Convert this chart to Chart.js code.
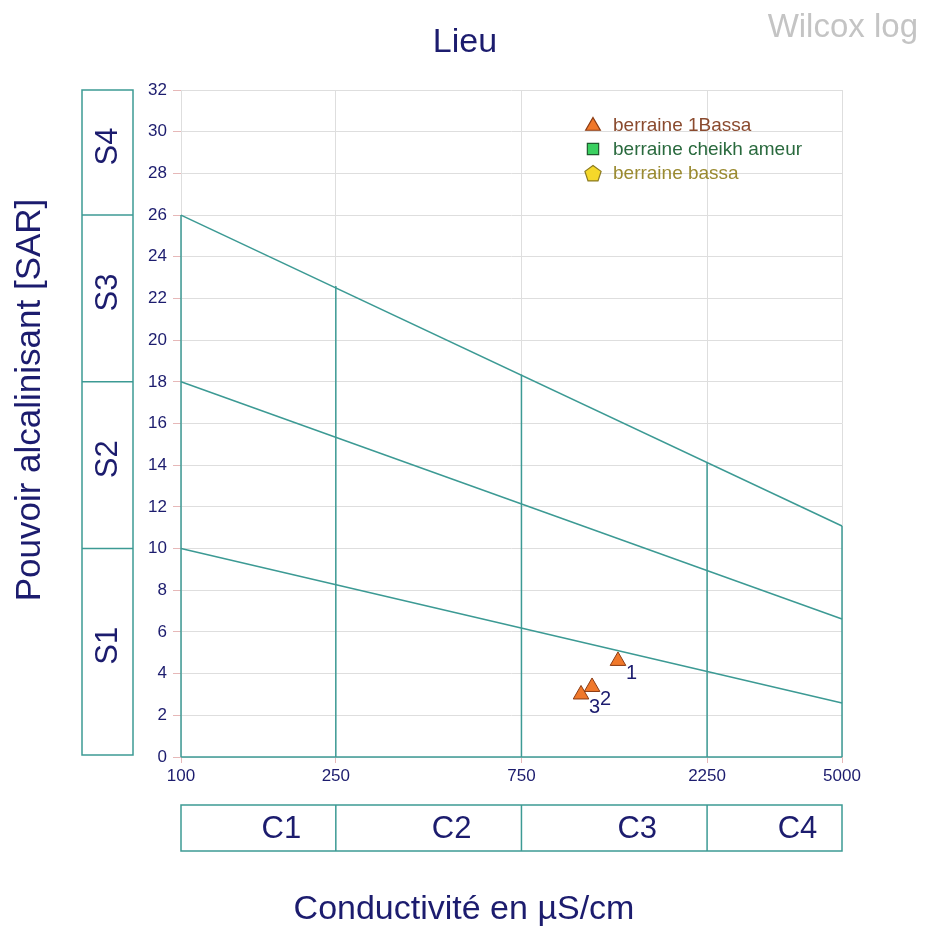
<!DOCTYPE html>
<html>
<head>
<meta charset="utf-8">
<script src="https://cdn.jsdelivr.net/npm/chart.js@4.4.1/dist/chart.umd.min.js"></script>
<style>
  body { margin: 0; background: #fff; }
  #wilcox { display: block; }
</style>
</head>
<body>
<canvas id="wilcox" width="927" height="930"></canvas>
<script>
// conductivity ticks (log axis) and SAR range
const xTicks = [100, 250, 750, 2250, 5000]
const yMin = 0, yMax = 32, yStep = 2

// boundary lines S1/S2, S2/S3, S3/S4 (SAR at 100 and 5000 µS/cm)
const lineX = [100, 5000]
const lineS1 = [10, 2.59]
const lineS2 = [18, 6.62]
const lineS3 = [26, 11.08]

// vertical class limits and the SAR where they meet the top line
const vertX = [250, 750, 2250, 5000]
const vertTop = [22.6, 18.35, 14.1, 11.08]

// class boxes
const sClasses = ['S1', 'S2', 'S3', 'S4']
const sLimits = [0, 10, 18, 26, 32]
const cClasses = ['C1', 'C2', 'C3', 'C4']
const cLimits = [100, 250, 750, 2250, 5000]

// samples
const seriesNames = ['berraine 1Bassa', 'berraine cheikh ameur', 'berraine bassa']
const bassa1Cond = [1328, 1139, 1067]
const bassa1Sar = [4.61, 3.36, 3.0]
const bassa1Ids = ['1', '2', '3']
const cheikhCond = []
const cheikhSar = []
const bassaCond = []
const bassaSar = []

const teal = '#3c9a94'
const navy = '#1c1c6e'
const font = '"Liberation Sans", Arial, sans-serif'

const toPts = (xs, ys) => xs.map((x, i) => ({ x: x, y: ys[i] }))

const lineDs = (data) => ({
    type: 'line',
    data: data,
    borderColor: teal,
    borderWidth: 1.5,
    pointRadius: 0,
    fill: false,
    clip: 4
})

const frameSets = [
    lineDs(toPts(lineX, lineS1)),
    lineDs(toPts(lineX, lineS2)),
    lineDs(toPts(lineX, lineS3)),
    lineDs([{ x: 100, y: 0 }, { x: 100, y: 26 }]),
    lineDs([{ x: 100, y: 0 }, { x: 5000, y: 0 }])
]
vertX.forEach((x, i) => {
    frameSets.push(lineDs([{ x: x, y: 0 }, { x: x, y: vertTop[i] }]))
})

const sampleSets = [
    {
        label: seriesNames[0],
        data: toPts(bassa1Cond, bassa1Sar),
        pointStyle: 'triangle',
        pointRadius: 9,
        backgroundColor: '#f0782a',
        borderColor: '#8a3a12',
        borderWidth: 1,
        ids: bassa1Ids,
        textColor: '#8a4a2e'
    },
    {
        label: seriesNames[1],
        data: toPts(cheikhCond, cheikhSar),
        pointStyle: 'rect',
        pointRadius: 8,
        backgroundColor: '#3ad060',
        borderColor: '#1f5a2e',
        borderWidth: 1,
        textColor: '#2a6a3e'
    },
    {
        label: seriesNames[2],
        data: toPts(bassaCond, bassaSar),
        pointStyle: 'circle',
        pointRadius: 8,
        backgroundColor: '#f5d82a',
        borderColor: '#8a7a20',
        borderWidth: 1,
        textColor: '#9a8a30',
        pentagon: true
    }
]

const drawPentagon = (ctx, x, y, r) => {
    ctx.beginPath()
    for (let k = 0; k < 5; k++) {
        const a = -Math.PI / 2 + k * 2 * Math.PI / 5
        const px = x + r * Math.cos(a)
        const py = y + r * Math.sin(a)
        if (k === 0) ctx.moveTo(px, py)
        else ctx.lineTo(px, py)
    }
    ctx.closePath()
    ctx.fill()
    ctx.stroke()
}

const decorPlugin = {
    id: 'decor',
    afterDraw(chart) {
        const ctx = chart.ctx
        const xs = chart.scales.x
        const ys = chart.scales.y
        ctx.save()

        // titles
        ctx.fillStyle = navy
        ctx.textAlign = 'center'
        ctx.textBaseline = 'middle'
        ctx.font = '34px ' + font
        ctx.fillText('Lieu', 465, 43)
        ctx.fillText('Conductivité en µS/cm', 464, 910)
        ctx.save()
        ctx.translate(30, 400)
        ctx.rotate(-Math.PI / 2)
        ctx.font = '35px ' + font
        ctx.fillText('Pouvoir alcalinisant [SAR]', 0, 0)
        ctx.restore()

        ctx.fillStyle = '#c4c4c4'
        ctx.textAlign = 'right'
        ctx.font = '33px ' + font
        ctx.fillText('Wilcox log', 918, 28)

        // S boxes
        ctx.strokeStyle = teal
        ctx.lineWidth = 1.5
        const bx0 = 82, bx1 = 133
        const sTop = ys.getPixelForValue(sLimits[sLimits.length - 1])
        const sBot = ys.getPixelForValue(sLimits[0]) - 2
        ctx.strokeRect(bx0, sTop, bx1 - bx0, sBot - sTop)
        for (let i = 1; i < sLimits.length - 1; i++) {
            const py = ys.getPixelForValue(sLimits[i])
            ctx.beginPath()
            ctx.moveTo(bx0, py)
            ctx.lineTo(bx1, py)
            ctx.stroke()
        }
        ctx.fillStyle = navy
        ctx.textAlign = 'center'
        ctx.font = '31px ' + font
        sClasses.forEach((s, i) => {
            const a = i === 0 ? sBot : ys.getPixelForValue(sLimits[i])
            const b = i === sClasses.length - 1 ? sTop : ys.getPixelForValue(sLimits[i + 1])
            ctx.save()
            ctx.translate(108, (a + b) / 2 - 6)
            ctx.rotate(-Math.PI / 2)
            ctx.fillText(s, 0, 0)
            ctx.restore()
        })

        // C boxes
        const cy0 = 805, cy1 = 851
        const cl = xs.getPixelForValue(cLimits[0])
        const cr = xs.getPixelForValue(cLimits[cLimits.length - 1])
        ctx.strokeRect(cl, cy0, cr - cl, cy1 - cy0)
        for (let i = 1; i < cLimits.length - 1; i++) {
            const px = xs.getPixelForValue(cLimits[i])
            ctx.beginPath()
            ctx.moveTo(px, cy0)
            ctx.lineTo(px, cy1)
            ctx.stroke()
        }
        cClasses.forEach((c, i) => {
            const a = xs.getPixelForValue(cLimits[i])
            const b = xs.getPixelForValue(cLimits[i + 1])
            ctx.fillText(c, (a + b) / 2 + 23, (cy0 + cy1) / 2 + 1)
        })

        // point labels
        ctx.font = '20px ' + font
        ctx.textAlign = 'left'
        chart.data.datasets.forEach((ds, di) => {
            if (!ds.ids) return
            const meta = chart.getDatasetMeta(di)
            meta.data.forEach((el, i) => {
                ctx.fillText(ds.ids[i], el.x + 8, el.y + 13)
            })
        })

        // legend
        ctx.font = '19px ' + font
        ctx.textBaseline = 'middle'
        sampleSets.forEach((ds, i) => {
            const ly = 125 + i * 24
            ctx.fillStyle = ds.backgroundColor
            ctx.strokeStyle = ds.borderColor
            ctx.lineWidth = 1.2
            if (ds.pentagon) {
                drawPentagon(ctx, 593, ly + 1, 8.5)
            } else {
                Chart.helpers.drawPoint(ctx, {
                    pointStyle: ds.pointStyle,
                    radius: ds.pointStyle === 'triangle' ? 8.5 : 8,
                    borderWidth: 1.2,
                    rotation: 0
                }, 593, ly + (ds.pointStyle === 'triangle' ? 1 : 0))
            }
            ctx.fillStyle = ds.textColor
            ctx.fillText(ds.label, 613, ly + 1)
        })

        ctx.restore()
    }
}

new Chart(document.getElementById('wilcox'), {
    type: 'scatter',
    data: { datasets: frameSets.concat(sampleSets) },
    plugins: [decorPlugin],
    options: {
        responsive: false,
        animation: false,
        layout: { padding: { left: 133, right: 85, top: 90, bottom: 143 } },
        plugins: {
            legend: { display: false },
            tooltip: { enabled: false },
            title: { display: false }
        },
        scales: {
            x: {
                type: 'logarithmic',
                min: xTicks[0],
                max: xTicks[xTicks.length - 1],
                afterBuildTicks: (scale) => { scale.ticks = xTicks.map(v => ({ value: v })) },
                afterFit: (scale) => { scale.height = 30 },
                ticks: {
                    autoSkip: false,
                    maxRotation: 0,
                    color: navy,
                    font: { size: 17, family: font },
                    padding: 3,
                    callback: (v) => String(v)
                },
                grid: { color: '#dedede', tickColor: '#e6b8b8', tickLength: 6 },
                border: { display: false }
            },
            y: {
                min: yMin,
                max: yMax,
                afterFit: (scale) => { scale.width = 48 },
                ticks: {
                    stepSize: yStep,
                    color: navy,
                    font: { size: 17, family: font },
                    padding: 6
                },
                grid: { color: '#dedede', tickColor: '#e6b8b8', tickLength: 8 },
                border: { display: false }
            }
        }
    }
})
</script>
</body>
</html>
